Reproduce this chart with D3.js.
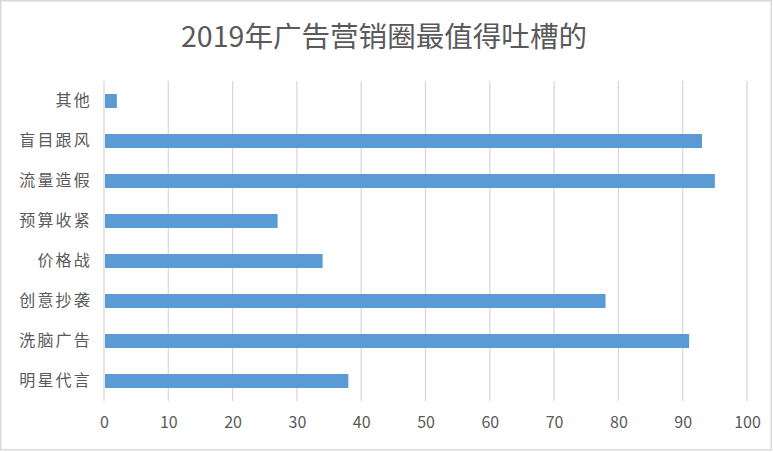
<!DOCTYPE html>
<html><head><meta charset="utf-8">
<script src="https://cdn.jsdelivr.net/npm/d3@7/dist/d3.min.js"></script>
<style>body{margin:0;background:#fff}svg{display:block}</style>
</head><body>
<svg id="c" width="773" height="452"></svg>
<script>
const title = "2019年广告营销圈最值得吐槽的";
const categories = ["其他","盲目跟风","流量造假","预算收紧","价格战","创意抄袭","洗脑广告","明星代言"];
const values = [2, 93, 95, 27, 34, 78, 91, 38];
const xTicks = [0,10,20,30,40,50,60,70,80,90,100];

const svg = d3.select("#c");
const W = 773, H = 452;
const m = {left:104, right:25, top:81, bottom:51};
const font = "'Noto Sans CJK SC','Noto Sans',sans-serif";
const txt = "#595959";

svg.append("rect").attr("x",0.75).attr("y",0.75).attr("width",W-1.5-1).attr("height",H-1.5-1.5)
  .attr("fill","#fff").attr("stroke","#d9d9d9").attr("stroke-width",1.5);

const x = d3.scaleLinear().domain([0,100]).range([m.left, W - m.right - 1]);
const y = d3.scaleBand().domain(categories).range([m.top, H - m.bottom]).paddingInner(0.65).paddingOuter(0.325);

// gridlines
svg.append("g").selectAll("line").data(xTicks).join("line")
  .attr("x1", d=>x(d)).attr("x2", d=>x(d))
  .attr("y1", m.top).attr("y2", H - m.bottom)
  .attr("stroke","#d9d9d9").attr("stroke-width",1.3);

// bars
svg.append("g").selectAll("rect").data(values).join("rect")
  .attr("x", x(0)+1)
  .attr("y", (d,i)=>y(categories[i]))
  .attr("width", d=>x(d)-x(0)-1)
  .attr("height", y.bandwidth())
  .attr("fill","#5b9bd5");

// x axis labels
const xa = svg.append("g").attr("transform",`translate(0,${H - m.bottom})`)
  .call(d3.axisBottom(x).tickValues(xTicks).tickSize(0).tickPadding(16));
xa.select(".domain").remove();
xa.selectAll("text").attr("fill",txt).style("font-family",font).style("font-size","16px");

// y axis labels
const ya = svg.append("g").attr("transform",`translate(${m.left - 12},0)`)
  .call(d3.axisLeft(y).tickSize(0).tickPadding(0));
ya.select(".domain").remove();
ya.selectAll("text").attr("fill",txt).style("font-family",font).style("font-size","16px")
  .style("letter-spacing","2.2px");

// title
svg.append("text").attr("x", 384).attr("y", 47).attr("text-anchor","middle")
  .attr("fill",txt).style("font-family",font).style("font-size","28px")
  .attr("textLength",406).attr("lengthAdjust","spacingAndGlyphs")
  .text(title);
</script>
</body></html>
